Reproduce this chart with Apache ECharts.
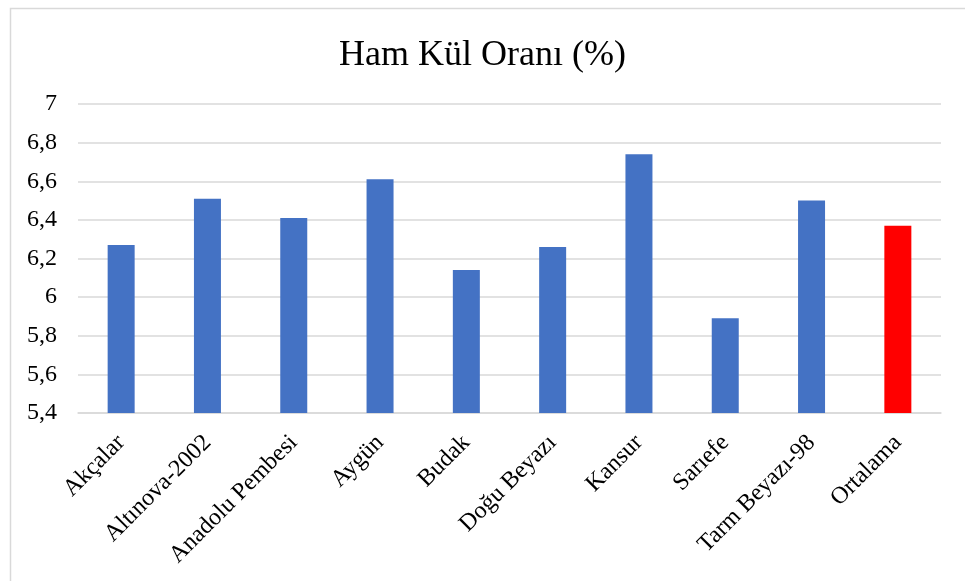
<!DOCTYPE html>
<html>
<head>
<meta charset="utf-8">
<script src="https://cdn.jsdelivr.net/npm/echarts@6/dist/echarts.min.js"></script>
<style>
    html, body { margin: 0; padding: 0; background: #fff; }
    #chart { width: 965px; height: 581px; }
</style>
</head>
<body>
<div id="chart"></div>
<script>
var categories = ['Akçalar', 'Altınova-2002', 'Anadolu Pembesi', 'Aygün', 'Budak',
    'Doğu Beyazı', 'Kansur', 'Sarıefe', 'Tarm Beyazı-98', 'Ortalama'];
var values = [6.27, 6.51, 6.41, 6.61, 6.14, 6.26, 6.74, 5.89, 6.50, 6.37];
var highlight = 'Ortalama';

var fontName = '"Liberation Serif", "Times New Roman", serif';
var myChart = echarts.init(document.getElementById('chart'));

myChart.setOption({
    animation: false,
    graphic: [{
        type: 'rect',
        shape: { x: 10.5, y: 8.5, width: 1000, height: 700 },
        style: { fill: 'none', stroke: '#d9d9d9', lineWidth: 1.5 },
        silent: true
    }],
    title: {
        text: 'Ham Kül Oranı (%)',
        left: 'center',
        top: 33,
        textStyle: {
            fontFamily: fontName,
            fontSize: 36,
            fontWeight: 'normal',
            color: '#000'
        }
    },
    grid: {
        left: 78,
        right: 24,
        top: 104,
        bottom: 168
    },
    xAxis: {
        type: 'category',
        data: categories,
        axisTick: { show: false },
        axisLine: { lineStyle: { color: '#d9d9d9', width: 1.5 } },
        axisLabel: {
            rotate: 45,
            interval: 0,
            margin: 26,
            fontFamily: fontName,
            fontSize: 24,
            color: '#000'
        }
    },
    yAxis: {
        type: 'value',
        min: 5.4,
        max: 7,
        interval: 0.2,
        axisLine: { show: false },
        axisTick: { show: false },
        splitLine: { lineStyle: { color: '#d9d9d9', width: 1.5 } },
        axisLabel: {
            margin: 21,
            fontFamily: fontName,
            fontSize: 24,
            color: '#000',
            formatter: function (val) {
                return String(Math.round(val * 10) / 10).replace('.', ',');
            }
        }
    },
    series: [{
        type: 'bar',
        barWidth: 27,
        data: values.map(function (v, i) {
            return {
                value: v,
                itemStyle: { color: categories[i] === highlight ? '#ff0000' : '#4472c4' }
            };
        })
    }]
});
</script>
</body>
</html>
